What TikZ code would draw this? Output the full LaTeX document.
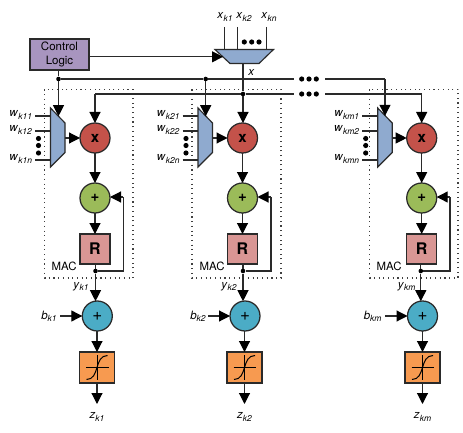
\documentclass[tikz,border=0pt]{standalone}
\usepackage{fontspec}
\setmainfont{TeX Gyre Heros}
\usetikzlibrary{arrows.meta,calc}
\definecolor{cpurple}{HTML}{A895BF}
\definecolor{cmux}{HTML}{8FAACF}
\definecolor{cred}{HTML}{C4524A}
\definecolor{cgreen}{HTML}{9BBB59}
\definecolor{cpink}{HTML}{D99694}
\definecolor{ccyan}{HTML}{4BACC6}
\definecolor{corange}{HTML}{F79A50}
\definecolor{cline}{HTML}{2A2A2A}
\newcommand\lab[2]{\fontsize{11.5}{12}\selectfont\textit{#1}\raisebox{-0.35ex}{\fontsize{8.5}{9}\selectfont\textit{#2}}}
\tikzset{
  wire/.style={draw=cline,line width=1.15pt},
  arr/.style={wire,-{Triangle[length=11pt,width=11pt,color=black]}},
  dotbox/.style={draw=black!75,line width=1.1pt,dash pattern=on 1.1pt off 3.6pt},
  block/.style={draw=cline,line width=1.25pt,inner sep=0pt,outer sep=0pt},
  op/.style={block,circle,minimum size=30pt,font=\bfseries\fontsize{15}{16}\selectfont},
  reg/.style={block,rectangle,fill=cpink,minimum size=30pt,font=\bfseries\fontsize{16}{17}\selectfont},
  act/.style={block,rectangle,fill=corange,minimum width=35pt,minimum height=31pt},
  mux/.style={draw=cline,line width=1.15pt,fill=cmux},
  txt/.style={inner sep=0pt,outer sep=0pt},
  jn/.style={circle,fill=black,inner sep=0pt,minimum size=4.6pt},
  bigdot/.style={circle,fill=black,inner sep=0pt,minimum size=5.2pt},
}
\begin{document}
\begin{tikzpicture}[x=1pt,y=-1pt]
\useasboundingbox (0,0) rectangle (463,433);
% control and selector
\node[block,fill=cpurple,minimum width=59pt,minimum height=31pt,align=center,font=\fontsize{11.5}{13.5}\selectfont] (ctrl) at (59.5,54.5) {Control\\Logic};
\coordinate (tl) at (215,49.5); \coordinate (tr) at (273.5,49.5);
\coordinate (br) at (259,63.5); \coordinate (bl) at (230,63.5);
\draw[mux] (tl) -- (tr) -- (br) -- (bl) -- cycle;
\coordinate (tin) at (223,56.8);
\draw[arr] (ctrl.east |- tin) -- (tin);
\coordinate (in1) at (224.8,27); \coordinate (in2) at (237.7,27); \coordinate (in3) at (266.3,27);
\draw[wire] (in1) -- (in1 |- tl);
\draw[wire] (in2) -- (in2 |- tl);
\draw[wire] (in3) -- (in3 |- tr);
\node[txt] (xa) at (225,17) {\lab{x}{k1}};
\node[txt] (xb) at (244,17) {\lab{x}{k2}};
\node[txt] (xc) at (269,17) {\lab{x}{kn}};
\node[bigdot] (ta) at (244.3,42) {}; \node[bigdot] (tb) at (251.7,42) {}; \node[bigdot] (tc) at (259,42) {};
\node[txt] (xlabel) at (251.5,72.5) {\fontsize{11.5}{12}\selectfont\textit{x}};
% bus junctions
\node[jn] (jc1) at (58.5,79) {};
\node[jn] (jc2) at (205.7,79) {};
\node[jn] (jx) at (243,94) {};
\coordinate (cbusL) at (294,79); \coordinate (cbusR) at (325,79);
\coordinate (xbusL) at (294,94); \coordinate (xbusR) at (325,94);
\node[bigdot] (d1) at (301.7,79) {}; \node[bigdot] (d2) at (309,79) {}; \node[bigdot] (d3) at (316.3,79) {};
\node[bigdot] (e1) at (301.7,94) {}; \node[bigdot] (e2) at (309,94) {}; \node[bigdot] (e3) at (316.3,94) {};
\draw[wire] (ctrl.south -| jc1) -- (jc1);
\draw[wire] (jc1) -- (jc2) -- (cbusL);
\draw[wire] (243,63.5) -- (jx);
% columns: id / X centre / dotted left / dotted right / mux left / junction x / blue centre / act left / b label / b start / y label / MAC label / w suffix / feedback x
\foreach \c/\X/\dL/\dR/\mL/\J/\B/\aL/\bL/\bS/\yL/\mac/\s/\F in {
  1/95/44.5/133/50.5/95.5/97.3/79.5/49/60/81/63/1/123.3,
  2/242.5/192/281/198/243/245/227/198/208/229/211/2/271,
  3/421.7/369.7/458/377.7/420.8/422.5/405/372.7/385/406.7/388/m/450}
{
  \draw[dotbox] (\dL,89.5) rectangle (\dR,278);
  % mux
  \coordinate (ma\c) at (\mL,108); \coordinate (mb\c) at ($(\mL,108)+(14.5,15)$);
  \coordinate (mc\c) at ($(\mL,167)+(14.5,-14.5)$); \coordinate (md\c) at (\mL,167);
  \draw[mux] (ma\c) -- (mb\c) -- (mc\c) -- (md\c) -- cycle;
  % operators
  \node[op,fill=cred] (mul\c) at (\X,138) {x};
  \node[op,fill=cgreen] (add\c) at (\X,198) {+};
  \node[reg] (reg\c) at (\X,249) {R};
  \node[op,fill=ccyan,font=\fontsize{17}{18}\selectfont] (sum\c) at (\B,316) {+};
  \node[act] (act\c) at ($(\aL,367.5)+(17.5,0)$) {};
  \coordinate (ac\c) at (act\c.center);
  \draw[line width=1pt] ($(ac\c)+(-11,0)$) -- ($(ac\c)+(11.5,0)$);
  \draw[line width=1pt] ($(ac\c)+(0,-12.5)$) -- ($(ac\c)+(0,12.5)$);
  \draw[line width=1pt] ($(ac\c)+(-10.5,12)$) .. controls ($(ac\c)+(3,12)$) and ($(ac\c)+(-3,-12)$) .. ($(ac\c)+(10.5,-12)$);
  % labels
  \node[txt,anchor=east] (mac\c) at (\mac+13.5,266) {\fontsize{11.4}{12}\selectfont MAC};
  \node[txt] (yl\c) at (\yL,287) {\lab{y}{k\ifnum\c=3 m\else\c\fi}};
  \node[txt] (bl\c) at (\bL,316) {\lab{b}{k\ifnum\c=3 m\else\c\fi}};
  \node[txt] (zl\c) at ($(ac\c)+(0,49.5)$) {\lab{z}{k\ifnum\c=3 m\else\c\fi}};
  % wires inside column
  \coordinate (bin\c) at (\bS,316);
  \draw[arr] (bin\c) -- (sum\c.west);
  \coordinate (min\c) at (\mL+14.5,138);
  \draw[arr] (min\c) -- (mul\c.west);
  \draw[arr] (mul\c) -- (add\c);
  \draw[arr] (add\c) -- (reg\c);
  \node[jn] (j\c) at (\J,271) {};
  \draw[wire] (reg\c.south -| j\c) -- (j\c);
  \coordinate (fb\c) at (\F,271);
  \coordinate (fc\c) at (\F,197);
  \draw[wire] (j\c) -- (fb\c) -- (fc\c);
  \draw[arr] (fc\c) -- (add\c.east |- fc\c);
  \coordinate (st\c) at (\J,301.2);
  \draw[arr] (j\c) -- (st\c);
  \coordinate (at\c) at (ac\c |- act\c.north);
  \draw[arr] (sum\c.south -| ac\c) -- (at\c);
  \coordinate (zo\c) at ($(ac\c)+(0,36.5)$);
  \draw[arr] (act\c.south -| ac\c) -- (zo\c);
  % mux inputs
  \coordinate (w1\c) at (\mL-15.5,116); \coordinate (w2\c) at (\mL-15.5,131); \coordinate (w3\c) at (\mL-15.5,160);
  \draw[wire] (w1\c) -- (\mL,116);
  \draw[wire] (w2\c) -- (\mL,131);
  \draw[wire] (w3\c) -- (\mL,160);
  \node[bigdot] (da\c) at (\mL-12,138.5) {};
  \node[bigdot] (db\c) at (\mL-12,145.5) {};
  \node[bigdot] (dc\c) at (\mL-12,153) {};
  \node[txt,anchor=east] (wa\c) at (\mL-18.5,115) {\lab{w}{k\ifnum\c=3 m\else\c\fi1}};
  \node[txt,anchor=east] (wb\c) at (\mL-18.5,130) {\lab{w}{k\ifnum\c=3 m\else\c\fi2}};
  \node[txt,anchor=east] (wc\c) at (\mL-18.5,159) {\lab{w}{k\ifnum\c=3 m\else\c\fi n}};
}
% buses to columns
\draw[arr] (jc1) -- (58.5,116.2);
\draw[arr] (jc2) -- (205.7,116.2);
\draw[wire] (cbusR) -- (385,79);
\draw[arr] (385,79) -- (385,115.8);
\draw[wire] (mul1.north |- jx) -- (jx) -- (xbusL);
\draw[arr] (mul1.north |- jx) -- (mul1.north);
\draw[arr] (jx) -- (jx |- mul2.north);
\draw[wire] (xbusR) -- (mul3.north |- xbusR);
\draw[arr] (mul3.north |- xbusR) -- (mul3.north);
\end{tikzpicture}
\end{document}
